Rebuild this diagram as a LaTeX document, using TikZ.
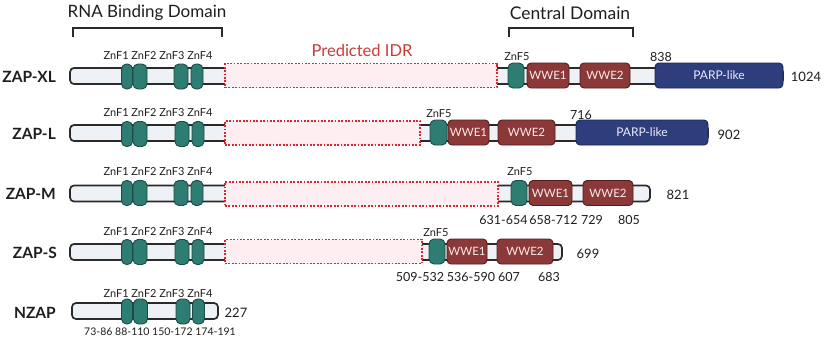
\documentclass[tikz,border=0pt]{standalone}
\usepackage{fontspec}
\setmainfont{Lato}
\definecolor{barfill}{HTML}{EEF2F7}
\definecolor{barline}{HTML}{2A2A2A}
\definecolor{znfill}{HTML}{2E7D72}
\definecolor{znline}{HTML}{1D4A44}
\definecolor{wwefill}{HTML}{8A3838}
\definecolor{wweline}{HTML}{521E1E}
\definecolor{parpfill}{HTML}{2E3E7C}
\definecolor{parpline}{HTML}{1B2755}
\definecolor{idrline}{HTML}{E0232E}
\definecolor{idrfill}{HTML}{FCEEF1}
\definecolor{idrtext}{HTML}{CC3B36}
\definecolor{txt}{HTML}{1E1E1E}
\newcommand\myfs[1]{\fontsize{#1}{#1}\selectfont}
\begin{document}
\begin{tikzpicture}[x=1pt,y=-1pt,
  backbone/.style={draw=barline,fill=barfill,line width=1.7pt,rounded corners=4pt,minimum height=16pt,inner sep=0pt},
  idr/.style={draw=idrline,fill=idrfill,line width=1.8pt,dash pattern=on 1.8pt off 1.6pt,minimum height=24pt,inner sep=0pt},
  znf/.style={draw=znline,fill=znfill,line width=0.9pt,rounded corners=5pt,minimum height=25pt,inner sep=0pt},
  wwe/.style={draw=wweline,fill=wwefill,line width=0.9pt,rounded corners=4pt,minimum height=25pt,inner sep=0pt,text=white!92!red,font=\myfs{11.5}},
  parp/.style={draw=parpline,fill=parpfill,line width=0.9pt,rounded corners=4pt,minimum height=25pt,inner sep=0pt,text=white!92!blue,font=\myfs{12}},
  rowlab/.style={anchor=east,font=\bfseries\myfs{15.5},text=txt,inner sep=0pt},
  znlab/.style={font=\myfs{11},text=txt,inner sep=0pt},
  num/.style={font=\myfs{12.5},text=txt,inner sep=0pt},
  endnum/.style={font=\myfs{13},text=txt,inner sep=0pt},
  domlab/.style={font=\myfs{17},text=txt,inner sep=0pt},
  bracket/.style={draw=barline,line width=1.4pt}
]
\useasboundingbox (0,0) rectangle (824,343);
\fill[white] (0,0) rectangle (824,343);

% ---------- top labels ----------
\node[domlab] (rbd) at (147,13) {RNA Binding Domain};
\coordinate (rbdl) at (73,37);
\coordinate (rbdr) at (222,37);
\draw[bracket] (rbdl) -- ++(0,-9) -| (rbdr);
\node[domlab,font=\myfs{17.5}] (cd) at (570,13) {Central Domain};
\coordinate (cdl) at (509,37);
\coordinate (cdr) at (633,37);
\draw[bracket] (cdl) -- ++(0,-9) -| (cdr);
\node[domlab,font=\myfs{16.5},text=idrtext] (pidr) at (362,50) {Predicted IDR};

% ---------- ZAP-XL ----------
\node[rowlab] (xlname) at (56,77) {ZAP-XL};
\node[backbone,minimum width=713pt] (xlbar) at (426.5,76) {};
\node[idr,minimum width=272pt] (xlidr) at (361,75.5) {};
\node[znf,minimum width=11pt] (xlz1) at (127,76.5) {};
\node[znf,minimum width=14pt] (xlz2) at (140,76.5) {};
\node[znf,minimum width=14pt] (xlz3) at (181,76.5) {};
\node[znf,minimum width=12pt] (xlz4) at (197,76.5) {};
\node[znf,minimum width=16pt] (xlz5) at (516,75.5) {};
\node[wwe,minimum width=42pt] (xlw1) at (548,75.5) {WWE1};
\node[wwe,minimum width=50pt] (xlw2) at (605,75.5) {WWE2};
\node[parp,minimum width=128pt] (xlp) at (719,75.5) {PARP-like};
\node[znlab] (xllab) at (158,56) {ZnF1 ZnF2 ZnF3 ZnF4};
\node[znlab] (xll5) at (517,57) {ZnF5};
\node[znlab,font=\myfs{12.5}] (xl838) at (661,57) {838};
\node[endnum] (xlend) at (806,77) {1024};

% ---------- ZAP-L ----------
\node[rowlab] (lname) at (56,134) {ZAP-L};
\node[backbone,minimum width=638pt] (lbar) at (389,133) {};
\node[idr,minimum width=195pt] (lidr) at (322.5,133) {};
\node[znf,minimum width=11pt] (lz1) at (127,134) {};
\node[znf,minimum width=14pt] (lz2) at (140,134) {};
\node[znf,minimum width=14pt] (lz3) at (182,134) {};
\node[znf,minimum width=12pt] (lz4) at (198,134) {};
\node[znf,minimum width=17pt] (lz5) at (438.5,132.5) {};
\node[wwe,minimum width=41pt] (lw1) at (468.5,132.5) {WWE1};
\node[wwe,minimum width=57pt] (lw2) at (526.5,132.5) {WWE2};
\node[parp,minimum width=132pt] (lp) at (642,132.5) {PARP-like};
\node[znlab] (lllab) at (158,113) {ZnF1 ZnF2 ZnF3 ZnF4};
\node[znlab] (ll5) at (439,114) {ZnF5};
\node[znlab,font=\myfs{12.5}] (l716) at (581,115) {716};
\node[endnum] (lend) at (729,135) {902};

% ---------- ZAP-M ----------
\node[rowlab] (mname) at (56,194) {ZAP-M};
\node[backbone,minimum width=580pt] (mbar) at (360,193.5) {};
\node[idr,minimum width=273pt] (midr) at (361.5,194) {};
\node[znf,minimum width=11pt] (mz1) at (127,193) {};
\node[znf,minimum width=14pt] (mz2) at (140,193) {};
\node[znf,minimum width=14pt] (mz3) at (181,193) {};
\node[znf,minimum width=12pt] (mz4) at (197,193) {};
\node[znf,minimum width=16pt] (mz5) at (519,193) {};
\node[wwe,minimum width=43pt] (mw1) at (550.5,193) {WWE1};
\node[wwe,minimum width=50pt] (mw2) at (608,193) {WWE2};
\node[znlab] (mllab) at (158,172) {ZnF1 ZnF2 ZnF3 ZnF4};
\node[znlab] (ml5) at (520,172) {ZnF5};
\node[endnum] (mend) at (678,195) {821};
\node[num] (mn1) at (503.5,220) {631-654};
\node[num] (mn2) at (553.5,220) {658-712};
\node[num] (mn3) at (592,220) {729};
\node[num] (mn4) at (629,220) {805};

% ---------- ZAP-S ----------
\node[rowlab] (sname) at (57,253) {ZAP-S};
\node[backbone,minimum width=492pt] (sbar) at (316,252) {};
\node[idr,minimum width=197pt] (sidr) at (323.5,251.5) {};
\node[znf,minimum width=11pt] (sz1) at (127,252) {};
\node[znf,minimum width=14pt] (sz2) at (140,252) {};
\node[znf,minimum width=14pt] (sz3) at (182,252) {};
\node[znf,minimum width=12pt] (sz4) at (198,252) {};
\node[znf,minimum width=16pt] (sz5) at (437,251.5) {};
\node[wwe,minimum width=40pt] (sw1) at (467,251.5) {WWE1};
\node[wwe,minimum width=56pt] (sw2) at (525,251.5) {WWE2};
\node[znlab] (sllab) at (158,232) {ZnF1 ZnF2 ZnF3 ZnF4};
\node[znlab] (sl5) at (436,233) {ZnF5};
\node[endnum] (send) at (588,254) {699};
\node[num] (sn1) at (420,277) {509-532};
\node[num] (sn2) at (471,277) {536-590};
\node[num] (sn3) at (509,277) {607};
\node[num] (sn4) at (549,277) {683};

% ---------- NZAP ----------
\node[rowlab] (nname) at (56,313) {NZAP};
\node[backbone,minimum width=146pt] (nbar) at (145,311) {};
\node[znf,minimum width=11pt] (nz1) at (127,311.5) {};
\node[znf,minimum width=14pt] (nz2) at (140.5,311.5) {};
\node[znf,minimum width=14pt] (nz3) at (183,311.5) {};
\node[znf,minimum width=12pt] (nz4) at (198.5,311.5) {};
\node[znlab] (nllab) at (158,294) {ZnF1 ZnF2 ZnF3 ZnF4};
\node[endnum] (nend) at (236,313) {227};
\node[znlab,font=\myfs{10.5}] (nnum) at (160,332) {73-86 88-110 150-172 174-191};
\end{tikzpicture}
\end{document}
